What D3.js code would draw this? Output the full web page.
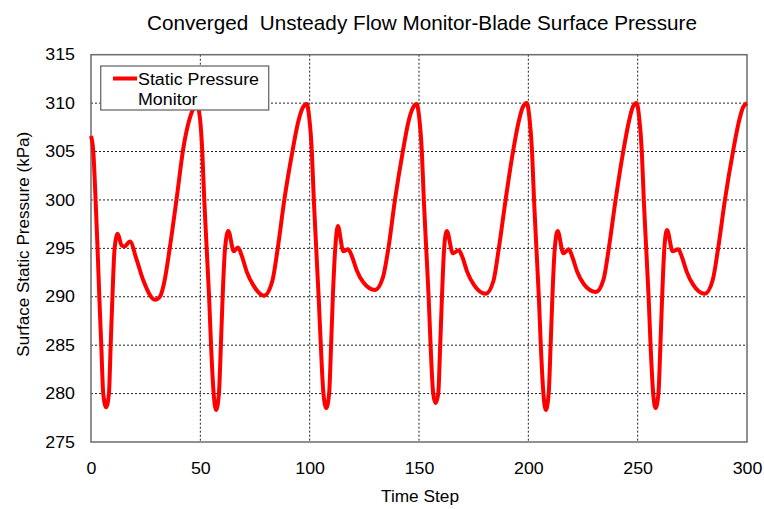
<!DOCTYPE html>
<html>
<head>
<meta charset="utf-8">
<script src="https://cdn.jsdelivr.net/npm/d3@7"></script>
<style>
  html, body { margin: 0; padding: 0; background: #fff; }
  svg { display: block; }
  text { font-family: "Liberation Sans", Arial, sans-serif; fill: #000; }
</style>
</head>
<body>
<svg id="chart" width="764" height="509"></svg>
<script>
const titleText = "Converged  Unsteady Flow Monitor-Blade Surface Pressure";
const xLabel = "Time Step";
const yLabel = "Surface Static Pressure (kPa)";
const seriesName = ["Static Pressure", "Monitor"];
const xTicks = [0, 50, 100, 150, 200, 250, 300];
const yTicks = [275, 280, 285, 290, 295, 300, 305, 310, 315];

const timeStep = [
  0, 1.05, 2.1, 3.0, 3.8, 4.7, 5.6, 6.9, 8.2, 9.0, 9.8, 10.8, 12.2, 14.0, 15.3, 17.8, 20.9, 23.9, 29.3, 31.5, 33.5, 36.0, 39.2, 42.2, 45, 47, 48.5,
  49.8, 50.9, 51.8, 52.9, 54.0, 54.9, 56.1, 57.2, 58.5, 59.4, 60.2, 61.3, 62.8, 65.3, 67.2, 69.0, 71.2, 74.2, 79.1, 82.9, 85.4, 88.4, 92.1, 94.8, 96.8, 98.6,
  99.8, 101.0, 101.9, 103.0, 104.1, 105.1, 106.3, 107.6, 108.9, 109.8, 110.6, 111.7, 112.9, 115.4, 117.6, 119.3, 121.4, 124.5, 129.9, 133.5, 136.0, 139.0, 142.6, 145.2, 147.2, 148.9,
  150.1, 151.3, 152.2, 153.3, 154.4, 155.3, 156.5, 157.6, 158.8, 159.7, 160.5, 161.5, 162.7, 165.5, 168.2, 170.0, 172.0, 175.2, 180.5, 184.0, 186.5, 189.6, 193.0, 195.6, 197.5, 199.3,
  200.5, 201.7, 202.6, 203.7, 204.8, 205.7, 206.9, 208.0, 209.3, 210.2, 211.0, 212.1, 213.4, 216.0, 218.5, 220.3, 222.3, 225.4, 230.9, 234.4, 236.8, 239.9, 243.4, 246.0, 247.8, 249.5,
  250.7, 251.9, 252.8, 253.9, 255.0, 255.9, 257.1, 258.2, 259.5, 260.4, 261.2, 262.2, 263.4, 266.0, 268.6, 270.4, 272.4, 275.5, 280.7, 284.3, 286.8, 289.9, 293.6, 296.3, 298.3, 300
];
const pressure = [
  306.6, 305.0, 300.0, 295.0, 290.0, 285.0, 280.0, 278.6, 280.0, 285.0, 290.0, 295.0, 296.5, 295.3, 295.2, 295.7, 293.8, 291.7, 289.7, 290.0, 291.5, 295.0, 300.2, 305.3, 308.3, 309.5, 309.8,
  308.5, 305.0, 300.0, 295.0, 290.0, 285.0, 280.0, 278.3, 280.0, 285.0, 290.0, 295.0, 296.8, 294.7, 295.1, 294.2, 292.6, 291.2, 290.1, 291.6, 295.0, 300.0, 305.0, 308.1, 309.5, 309.9,
  308.5, 305.0, 300.0, 295.0, 290.0, 285.0, 280.0, 278.5, 280.0, 285.0, 290.0, 295.0, 297.3, 294.7, 294.9, 294.2, 292.8, 291.5, 290.7, 292.0, 295.0, 300.0, 305.0, 308.1, 309.5, 309.9,
  308.5, 305.0, 300.0, 295.0, 290.0, 285.0, 280.0, 279.0, 280.0, 285.0, 290.0, 295.0, 296.8, 294.5, 294.8, 294.0, 292.6, 291.2, 290.3, 291.6, 295.0, 300.0, 305.0, 308.1, 309.6, 310.0,
  308.5, 305.0, 300.0, 295.0, 290.0, 285.0, 280.0, 278.3, 280.0, 285.0, 290.0, 295.0, 296.8, 294.5, 294.9, 294.0, 292.6, 291.3, 290.5, 291.8, 295.0, 300.0, 305.0, 308.1, 309.6, 310.0,
  308.5, 305.0, 300.0, 295.0, 290.0, 285.0, 280.0, 278.5, 280.0, 285.0, 290.0, 295.0, 296.9, 294.7, 294.9, 294.0, 292.6, 291.2, 290.3, 291.7, 295.0, 300.0, 305.0, 308.1, 309.6, 310.0
];

const svg = d3.select("#chart");
const pLeft = 91, pRight = 747, pTop = 54.7, pBottom = 442;

const x = d3.scaleLinear().domain([0, 300]).range([pLeft, pRight]);
const y = d3.scaleLinear().domain([275, 315]).range([pBottom, pTop]);

// width of a tick label: digits rendered slightly wide as in the reference
const tickLen = s => String(s).length * 9.9;

// grid lines
const grid = svg.append("g");
grid.selectAll("line.gx").data(xTicks.slice(1, -1)).join("line")
  .attr("class", "gx")
  .attr("x1", d => x(d)).attr("x2", d => x(d))
  .attr("y1", pTop).attr("y2", pBottom)
  .attr("stroke", "#222").attr("stroke-width", 1).attr("stroke-dasharray", "2,2");
grid.selectAll("line.gy").data(yTicks.slice(1, -1)).join("line")
  .attr("class", "gy")
  .attr("x1", pLeft).attr("x2", pRight)
  .attr("y1", d => y(d)).attr("y2", d => y(d))
  .attr("stroke", "#222").attr("stroke-width", 1).attr("stroke-dasharray", "2,2");

// axes (labels via d3 axis)
const xAxis = svg.append("g").attr("transform", `translate(0,${pBottom})`)
  .call(d3.axisBottom(x).tickValues(xTicks).tickSize(0).tickPadding(21));
xAxis.select(".domain").remove();
xAxis.selectAll("text").style("font-size", "16px").style("font-family", "Liberation Sans, Arial, sans-serif")
  .attr("fill", "#000").attr("textLength", d => tickLen(d)).attr("lengthAdjust", "spacingAndGlyphs");

const yAxis = svg.append("g").attr("transform", `translate(${pLeft},0)`)
  .call(d3.axisLeft(y).tickValues(yTicks).tickSize(0).tickPadding(16));
yAxis.select(".domain").remove();
yAxis.selectAll("text").style("font-size", "16px").style("font-family", "Liberation Sans, Arial, sans-serif")
  .attr("fill", "#000").attr("textLength", d => tickLen(d)).attr("lengthAdjust", "spacingAndGlyphs");

// plot frame
svg.append("rect").attr("x", pLeft).attr("y", pTop)
  .attr("width", pRight - pLeft).attr("height", pBottom - pTop)
  .attr("fill", "none").attr("stroke", "#6b6b6b").attr("stroke-width", 1.5);

// series line
const pts = timeStep.map((t, i) => [t, pressure[i]]);
const line = d3.line().x(d => x(d[0])).y(d => y(d[1])).curve(d3.curveMonotoneX);
svg.append("path").datum(pts).attr("d", line)
  .attr("fill", "none").attr("stroke", "#ff0000").attr("stroke-width", 4)
  .attr("stroke-linejoin", "round").attr("stroke-linecap", "butt");

// legend
const lg = svg.append("g");
lg.append("rect").attr("x", 100.7).attr("y", 66).attr("width", 168).attr("height", 44)
  .attr("fill", "#fff").attr("stroke", "#6b6b6b").attr("stroke-width", 1.3);
lg.append("line").attr("x1", 113).attr("x2", 137).attr("y1", 78.5).attr("y2", 78.5)
  .attr("stroke", "#ff0000").attr("stroke-width", 4);
lg.append("text").attr("x", 138).attr("y", 84.5).style("font-size", "16px")
  .attr("textLength", 121).attr("lengthAdjust", "spacingAndGlyphs").text(seriesName[0]);
lg.append("text").attr("x", 138).attr("y", 104.5).style("font-size", "16px")
  .attr("textLength", 59.5).attr("lengthAdjust", "spacingAndGlyphs").text(seriesName[1]);

// title (keeps the double space)
svg.append("text").attr("x", 422).attr("y", 30)
  .attr("text-anchor", "middle")
  .attr("xml:space", "preserve").style("white-space", "pre")
  .attr("textLength", 550).attr("lengthAdjust", "spacingAndGlyphs")
  .style("font-size", "21px").text(titleText);

// axis titles
svg.append("text").attr("x", 420).attr("y", 502)
  .attr("text-anchor", "middle").style("font-size", "16px")
  .attr("textLength", 78).attr("lengthAdjust", "spacingAndGlyphs").text(xLabel);
svg.append("text").attr("transform", "translate(29,244.2) rotate(-90)")
  .attr("text-anchor", "middle").style("font-size", "16px")
  .attr("textLength", 225).attr("lengthAdjust", "spacingAndGlyphs").text(yLabel);
</script>
</body>
</html>
